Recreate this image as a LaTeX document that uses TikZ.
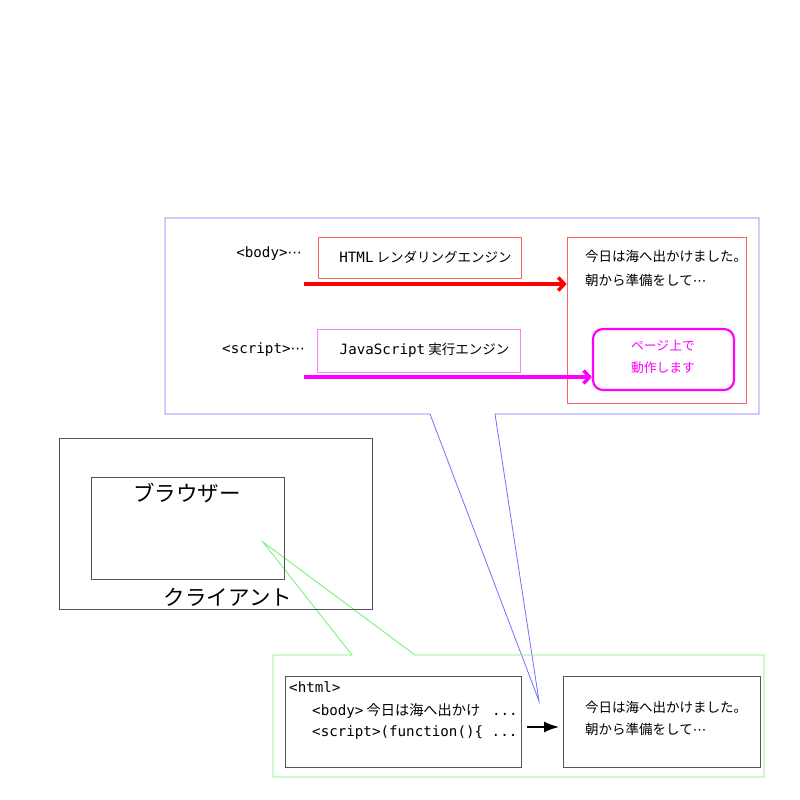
\documentclass[tikz,border=0pt]{standalone}
\usepackage{fontspec}
\setmainfont{Noto Sans CJK JP}
\newfontfamily\mono{DejaVu Sans Mono}
\newfontfamily\dv{DejaVu Sans}
\newcommand{\mdots}{{\dv ⋯}}
\usetikzlibrary{arrows.meta}
\definecolor{cblue}{HTML}{7070FF}
\definecolor{cgreen}{HTML}{70F070}
\definecolor{cred}{HTML}{FF6060}
\definecolor{cpink}{HTML}{FF80FF}
\definecolor{cmag}{HTML}{FF00FF}
\definecolor{cgray}{HTML}{555555}
\tikzset{
  graybox/.style={draw=cgray, line width=0.8pt, inner sep=0pt},
  engbox/.style={line width=0.8pt, inner sep=0pt, font=\fontsize{13.5}{16}\selectfont},
  jtext/.style={inner sep=0pt, font=\fontsize{13.5}{16}\selectfont},
  mtext/.style={inner sep=0pt, font=\fontsize{14.2}{16}\selectfont},
  big/.style={inner sep=0pt, font=\fontsize{21.5}{24}\selectfont},
  thickarrow/.style={line width=3.5pt, -{Straight Barb[length=6pt,width=13pt]}},
}
\begin{document}
\begin{tikzpicture}[x=1pt,y=-1pt]
\useasboundingbox (0,0) rectangle (800,800);
% callouts
\coordinate (bt) at (539,701);
\coordinate (gt) at (263,542);
\draw[cblue, line width=0.8pt] (430,414) -- (165,414) -- (165,218) -- (759,218) -- (759,414) -- (495,414) -- (bt) -- cycle;
\draw[cgreen, line width=0.8pt] (352,655) -- (273,655) -- (273,777) -- (764,777) -- (764,655) -- (415,655) -- (gt) -- cycle;
% client / browser
\node[graybox, anchor=north west, minimum width=313pt, minimum height=171pt] (client) at (59,438) {};
\node[graybox, anchor=north west, minimum width=193pt, minimum height=102pt] (browser) at (91,477) {};
\node[big] (blabel) at (187,493) {ブラウザー};
\node[big] (clabel) at (228,597) {クライアント};
% top panel
\node[mtext, anchor=east] (bodylbl) at (302,254) {{\mono <body>}\mdots};
\node[mtext, anchor=east] (scriptlbl) at (305,350) {{\mono <script>}\mdots};
\node[engbox, draw=cred, minimum width=203pt, minimum height=41pt] (html) at (419.5,257.5) {\hspace{12pt}{\mono\fontsize{14.2}{16}\selectfont HTML} レンダリングエンジン};
\node[engbox, draw=cpink, minimum width=203pt, minimum height=43pt] (js) at (418.5,350.5) {\hspace{12pt}{\mono\fontsize{14.2}{16}\selectfont JavaScript} 実行エンジン};
\node[draw=cred, line width=0.8pt, inner sep=0pt, minimum width=179pt, minimum height=166pt] (res) at (656.5,320) {};
\node[jtext, anchor=west] (r1) at (585,256) {今日は海へ出かけました。};
\node[jtext, anchor=west] (r2) at (585,280) {朝から準備をして\mdots};
\node[draw=cmag, line width=2.2pt, rounded corners=10pt, inner sep=0pt, minimum width=141pt, minimum height=61pt] (mag) at (663.5,359.5) {};
\node[inner sep=0pt, text=cmag, font=\fontsize{12.8}{16}\selectfont] (m1) at (663,345) {ページ上で};
\node[inner sep=0pt, text=cmag, font=\fontsize{12.8}{16}\selectfont] (m2) at (663,368) {動作します};
\coordinate (ra) at (304,284);
\coordinate (ma) at (304,377);
\draw[red, thickarrow] (ra) -- (ra -| res.west);
\draw[cmag, thickarrow] (ma) -- (ma -| mag.west);
% bottom panel
\node[graybox, anchor=north west, minimum width=236pt, minimum height=91pt] (src) at (285,676) {};
\node[graybox, anchor=north west, minimum width=197pt, minimum height=91pt] (out) at (563,676) {};
\node[mtext, anchor=west] (s1) at (289,687) {\mono <html>};
\node[mtext, anchor=west] (s2) at (312,711) {{\mono <body>} 今日は海へ出かけ {\mono\ ...}};
\node[mtext, anchor=west] (s3) at (312,733) {\mono <script>(function()\{ ...};
\node[jtext, anchor=west] (o1) at (585,707) {今日は海へ出かけました。};
\node[jtext, anchor=west] (o2) at (585,729) {朝から準備をして\mdots};
\coordinate (ba) at (527,727);
\draw[line width=1.6pt, -{Latex[length=15pt,width=11pt]}] (ba) -- ([xshift=-4pt]out.west |- ba);
\end{tikzpicture}
\end{document}
